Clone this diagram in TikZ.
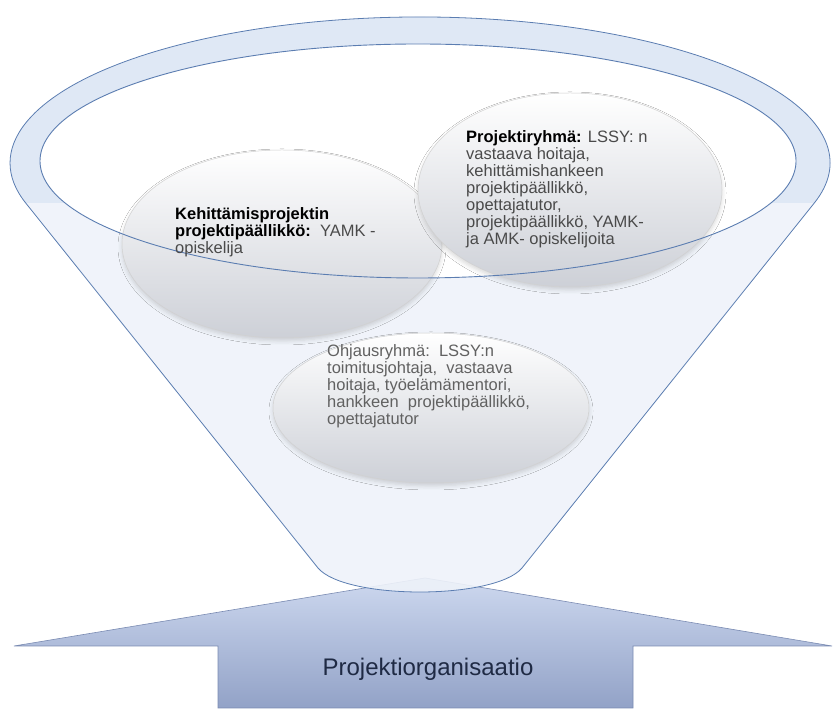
\documentclass[tikz,border=0pt]{standalone}
\usepackage{fontspec}
\setmainfont{Liberation Sans}
\usetikzlibrary{shapes.geometric,shadows.blur}
\definecolor{viiva}{HTML}{5B7DB1}
\definecolor{reuna}{HTML}{DFE8F5}
\definecolor{runko}{HTML}{EEF2F9}
\definecolor{pallopohja}{HTML}{CDD0D7}
\definecolor{nuoliyla}{HTML}{CDD8EF}
\definecolor{nuoliala}{HTML}{92A2C7}
\definecolor{nuolireuna}{HTML}{7A8BB2}
\definecolor{nimi}{HTML}{1F2A44}
\definecolor{harmaa}{HTML}{4A4A4A}
\tikzset{
  pallo/.style={ellipse, draw=black!18, line width=0.5pt, top color=white, bottom color=pallopohja,
    blur shadow={shadow xshift=0pt, shadow yshift=-3pt, shadow blur radius=4pt, shadow opacity=15}},
  teksti/.style={align=left, inner sep=0pt, anchor=west, text=harmaa, font=\fontsize{16.5}{17}\selectfont},
  nuoli/.style={top color=nuoliyla, bottom color=nuoliala, draw=nuolireuna, line width=0.6pt}
}
\begin{document}
\begin{tikzpicture}[x=1pt, y=1pt]
\useasboundingbox (0,0) rectangle (834,711);
% nuoli
\path [nuoli] (14,65) -- (218,65) -- (218,3) -- (633,3) -- (633,65) -- (832,65) -- (425,133) -- cycle;
\node (org) at (428,42) [text=nimi, font=\fontsize{24}{28}\selectfont] {Projektiorganisaatio};
% suppilo
\fill [runko, fill opacity=0.9]
  (25.7,508) -- (318,143) .. controls (345,111) and (495,111) .. (522,143) -- (814.3,508)
  arc [start angle=-15.9, end angle=195.9, x radius=410, y radius=146] -- cycle;
\begin{scope}
\clip (0,508) rectangle (834,711);
\fill [reuna, even odd rule] (420,548) ellipse [x radius=410, y radius=146]
  (418,550) ellipse [x radius=378, y radius=117];
\end{scope}
\fill [white] (418,550) ellipse [x radius=378, y radius=117];
\draw [viiva, line width=0.8pt] (25.7,508) -- (318,143) .. controls (345,111) and (495,111) .. (522,143) -- (814.3,508)
  arc [start angle=-15.9, end angle=195.9, x radius=410, y radius=146] -- cycle;
% pallot
\node (ohjaus) [pallo, minimum width=316, minimum height=150] at (431,303) {};
\node (kehitys) [pallo, minimum width=320, minimum height=188] at (282,467) {};
\node (ryhma) [pallo, minimum width=304, minimum height=194] at (570,521) {};
\draw [viiva, line width=0.9pt] (418,550) ellipse [x radius=378, y radius=117];
% tekstit
\node (ohjausteksti) [teksti, text=black!62] at (327,325)
  {Ohjausryhmä:\ \ LSSY:n\\ toimitusjohtaja,\ \ vastaava\\ hoitaja, työelämämentori,\\ hankkeen\ \ projektipäällikkö,\\ opettajatutor};
\node (kehitysteksti) [teksti] at (175,479)
  {\textcolor{black}{\bfseries Kehittämisprojektin}\\ \textcolor{black}{\bfseries projektipäällikkö:}\ \ YAMK -\\ opiskelija};
\node (ryhmateksti) [teksti] at (466,522)
  {\textcolor{black}{\bfseries Projektiryhmä:} LSSY: n\\ vastaava hoitaja,\\ kehittämishankeen\\ projektipäällikkö,\\ opettajatutor,\\ projektipäällikkö, YAMK-\\ ja AMK- opiskelijoita};
\end{tikzpicture}
\end{document}
